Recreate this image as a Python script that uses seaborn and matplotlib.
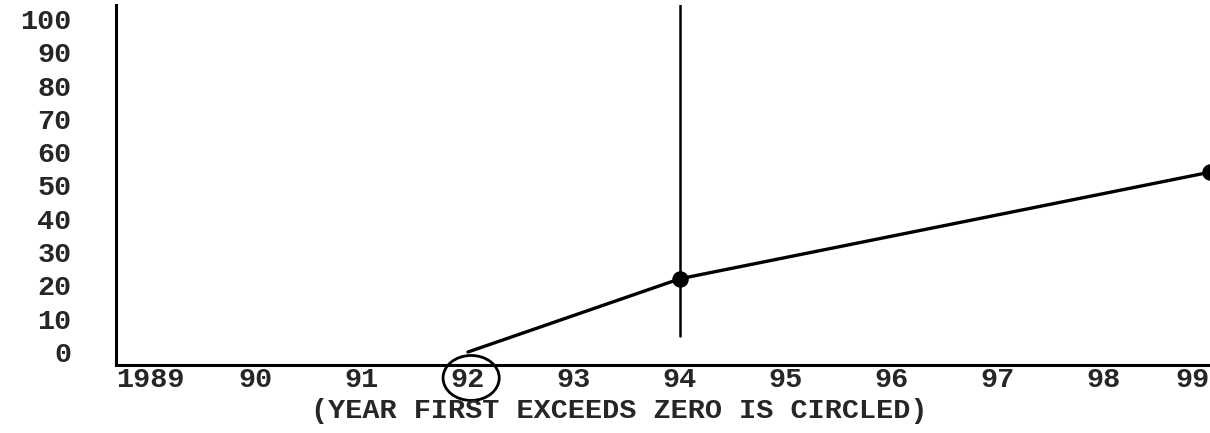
import matplotlib
matplotlib.use("Agg")
import matplotlib.pyplot as plt
import matplotlib.transforms as mtransforms
from matplotlib.patches import Ellipse
import seaborn as sns
import pandas as pd

# ---- data ----
tick_years = [1989, 1990, 1991, 1992, 1993, 1994, 1995, 1996, 1997, 1998, 1999]
tick_labels = ["1989", "90", "91", "92", "93", "94", "95", "96", "97", "98", "99"]
y_ticks = [0, 10, 20, 30, 40, 50, 60, 70, 80, 90, 100]
line_years = [1992, 1994, 1999]
line_values = [0, 22, 54]
marker_years = [1994, 1999]
marker_values = [22, 54]
circled_year = 1992
highlight_year = 1994
caption = "(YEAR FIRST EXCEEDS ZERO IS CIRCLED)"

sns.set_style("white")
plt.rcParams['font.family'] = ['Liberation Mono', 'DejaVu Sans']
plt.rcParams['font.weight'] = 'bold'

FS = 20.5
fig = plt.figure(figsize=(12.10, 4.33), dpi=100)
W, H = 1210, 433
ax = fig.add_axes([116 / W, 1 - 365 / H, (1210 - 116) / W, 360 / H])

df = pd.DataFrame({"year": line_years, "value": line_values})
sns.lineplot(data=df, x="year", y="value", ax=ax, color="black", linewidth=2.4)
dm = pd.DataFrame({"year": marker_years, "value": marker_values})
sns.scatterplot(data=dm, x="year", y="value", ax=ax, color="black", s=120,
                edgecolor="black", zorder=5)

ax.axvline(highlight_year, ymin=0.08, ymax=1.0, color="black", linewidth=1.8)

ax.set_xlim(1988.68, 1999.0)
ax.set_ylim(-3.9, 104.2)

ax.set_xticks(tick_years)
ax.set_xticklabels(tick_labels)
ax.set_yticks(y_ticks)
ax.set_yticklabels([str(v) for v in y_ticks])
ax.tick_params(axis="y", length=0, pad=32, labelsize=FS)
ax.tick_params(axis="x", length=0, pad=1.5, labelsize=FS)
for lbl in ax.get_xticklabels() + ax.get_yticklabels():
    lbl.set_fontweight("bold")
ax.get_xticklabels()[-1].set_horizontalalignment("right")

ax.set_xlabel("")
ax.set_ylabel("")
for s in ["top", "right"]:
    ax.spines[s].set_visible(False)
for s in ["left", "bottom"]:
    ax.spines[s].set_linewidth(2.2)
    ax.spines[s].set_color("black")
ax.grid(False)

trans = mtransforms.blended_transform_factory(ax.transData, ax.transAxes)
ell = Ellipse((circled_year + 0.03, -0.036), width=0.53, height=0.125,
              transform=trans, fill=False, edgecolor="black", linewidth=2.0,
              clip_on=False)
ax.add_patch(ell)

fig.text(619 / W, 1 - 398 / H, caption, ha="center", va="top",
         fontsize=FS, fontweight="bold")

fig.savefig("out.png", dpi=100)
